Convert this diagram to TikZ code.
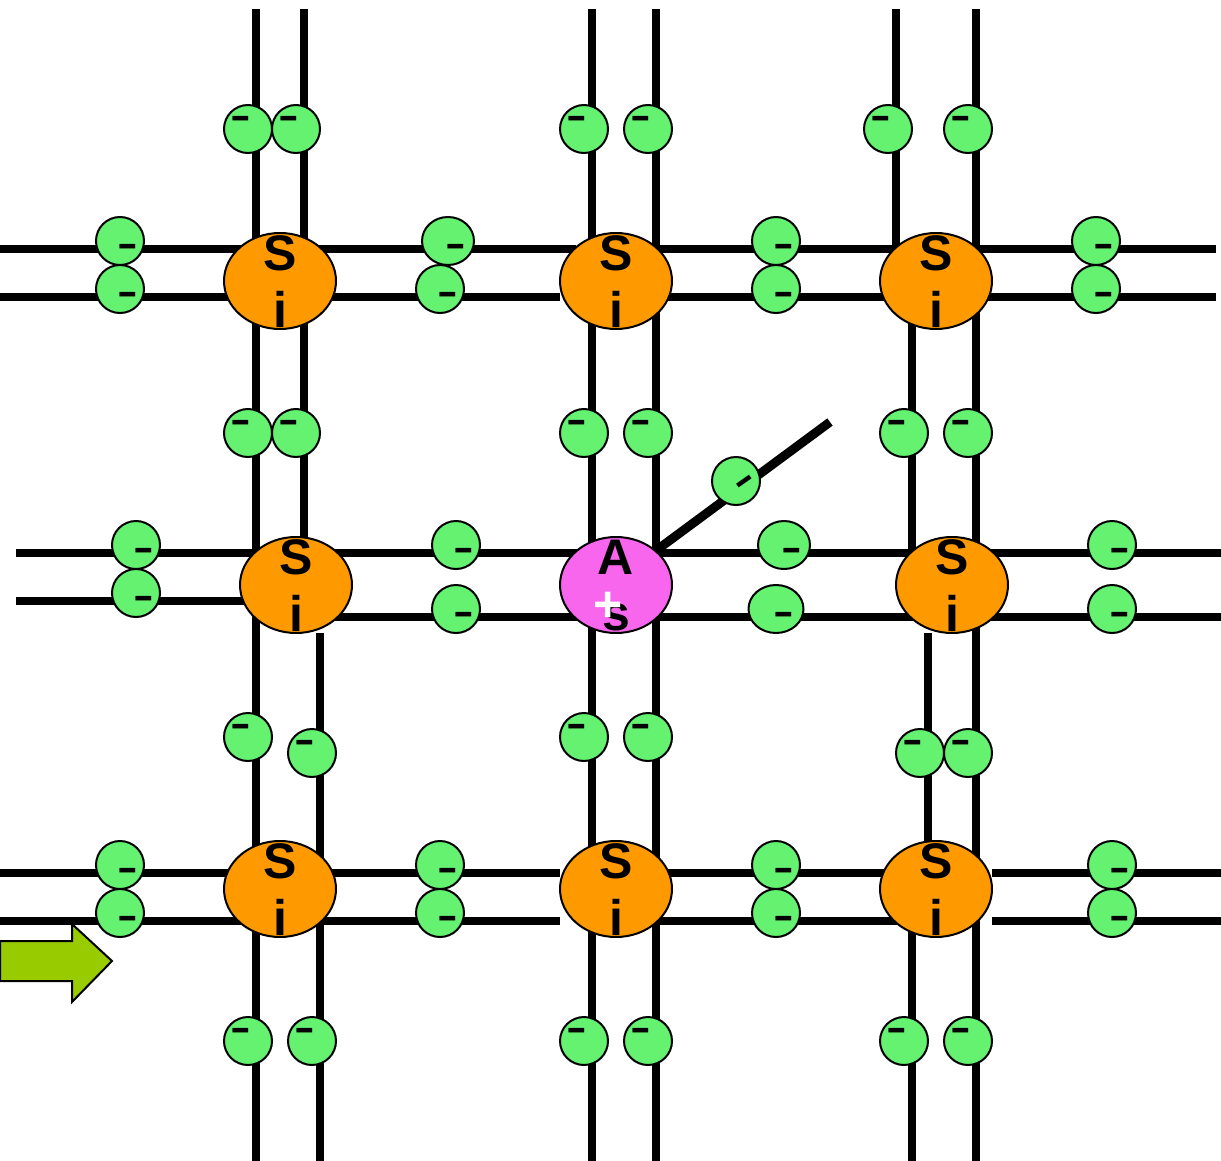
\documentclass[tikz,border=0pt]{standalone}
\usepackage{fontspec}
\setmainfont{Liberation Sans}
\usetikzlibrary{shapes.geometric}
\definecolor{siorange}{HTML}{FF9900}
\definecolor{aspink}{HTML}{F966EE}
\definecolor{elgreen}{HTML}{66F271}
\definecolor{arrowgreen}{HTML}{99CC00}
\tikzset{
  bond/.style={line width=8pt,black,line cap=butt},
  atomsi/.style={ellipse,draw=black,line width=2pt,fill=siorange,minimum width=112pt,minimum height=96pt,inner sep=0pt},
  atomas/.style={atomsi,fill=aspink},
  electron/.style={ellipse,draw=black,line width=2pt,fill=elgreen,minimum width=48pt,minimum height=48pt,inner sep=0pt},
  wideel/.style={electron,minimum width=52pt},
  widerel/.style={electron,minimum width=55pt},
  lettertext/.style={anchor=base,inner sep=0pt,font=\fontsize{50}{50}\selectfont\bfseries},
  minustext/.style={inner sep=0pt,font=\fontsize{40}{40}\selectfont\bfseries},
  plustext/.style={inner sep=0pt,text=white,font=\fontsize{50}{50}\selectfont\bfseries}
}
\newcommand{\minusmark}{\scalebox{1.55}[0.95]{-}}
\begin{document}
\begin{tikzpicture}[x=1pt,y=-1pt]
\useasboundingbox (0,0) rectangle (1221,1161);
% vertical bonds
\foreach \x/\a/\b in {
  256/9/1161, 304/9/540, 320/633/1161,
  592/9/1161, 656/9/1161,
  896/9/255, 912/320/560, 928/633/850, 912/930/1161, 976/9/1161}
  \draw[bond] (\x,\a) -- (\x,\b);
% horizontal bonds
\foreach \y/\a/\b in {
  249/0/576, 249/600/1216, 297/0/560, 297/610/1216,
  553/16/1221, 601/16/250, 617/330/1221,
  873/0/560, 873/600/930, 873/992/1221,
  921/0/560, 921/600/930, 921/992/1221}
  \draw[bond] (\a,\y) -- (\b,\y);
% atoms
\foreach \n/\x/\y in {a/280/281, b/616/281, c/936/281, d/296/585, f/952/585, g/280/889, h/616/889, k/936/889}{
  \node[atomsi] (si\n) at (\x,\y) {};
  \pgfmathsetmacro{\ys}{\y-11}
  \pgfmathsetmacro{\yi}{\y+46}
  \node[lettertext] (s\n) at (\x,\ys) {S};
  \node[lettertext] (i\n) at (\x,\yi) {i};
}
\coordinate (freeend) at (830,422);
\coordinate (bondstart) at (650,555);
\draw[bond,line width=9pt] (bondstart) -- (freeend);
\node[atomas] (as) at (616,585) {};
\node[lettertext] (asa) at (616,574) {A};
\node[lettertext] (ass) at (616,630) {s};
\node[plustext] (asplus) at (608,607) {+};
% electrons on vertical bonds (mark upper left)
\foreach \x/\y [count=\i] in {
  248/129, 296/129, 584/129, 648/129, 888/129, 968/129,
  248/433, 296/433, 584/433, 648/433, 904/433, 968/433,
  248/737, 312/753, 584/737, 648/737, 920/753, 968/753,
  248/1041, 312/1041, 584/1041, 648/1041, 904/1041, 968/1041}{
  \node[electron] (v\i) at (\x,\y) {};
  \node[minustext] (vm\i) at ([shift={(-7.5,-7)}]v\i.center) {\minusmark};
}
% electrons on horizontal bonds (mark lower right)
\foreach \x/\y [count=\i] in {
  120/241, 120/289, 440/289, 776/241, 776/289, 1096/241, 1096/289,
  136/545, 136/593, 456/545, 456/609, 1112/545, 1112/609,
  120/865, 120/913, 440/865, 440/913, 776/865, 776/913, 1112/865, 1112/913}{
  \node[electron] (h\i) at (\x,\y) {};
  \node[minustext] (hm\i) at ([shift={(7.5,9)}]h\i.center) {\minusmark};
}
\node[wideel] (e1) at (448,241) {};
\node[minustext] (em1) at (456,250) {\minusmark};
\node[wideel] (e2) at (784,545) {};
\node[minustext] (em2) at (792,554) {\minusmark};
\node[widerel] (e3) at (776,609) {};
\node[minustext] (em3) at (784,618) {\minusmark};
% freed electron
\node[electron] (fe) at (736,481) {};
\node[minustext,rotate=35] (fem) at (746.5,484.5) {\minusmark};
% arrow
\draw[line width=2pt,fill=arrowgreen,line join=miter] (0,941) -- (72,941) -- (72,924) -- (112,961) -- (72,1002) -- (72,981) -- (0,981) -- cycle;
\end{tikzpicture}
\end{document}
